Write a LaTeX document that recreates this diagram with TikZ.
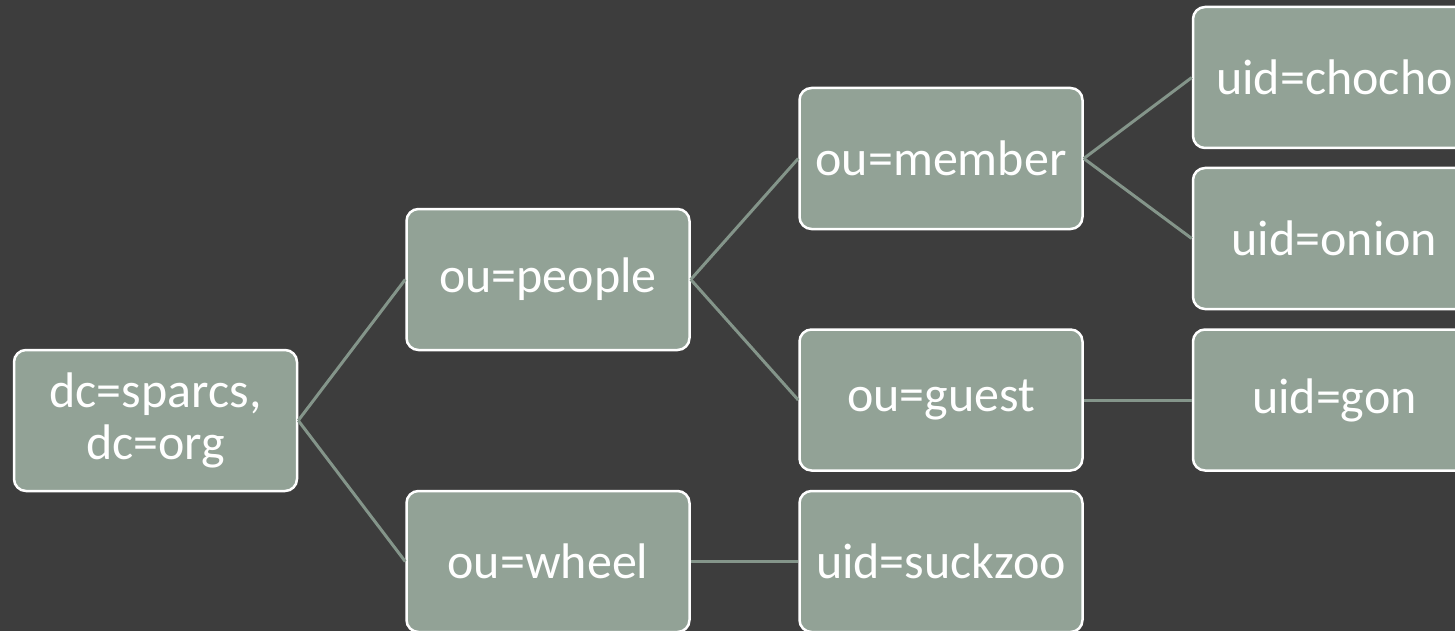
\documentclass[tikz,border=0pt]{standalone}
\usepackage{fontspec}
\setmainfont{Carlito}
\definecolor{bg}{HTML}{3D3D3D}
\definecolor{boxfill}{HTML}{92A296}
\definecolor{linkcol}{HTML}{84958A}
\begin{document}
\begin{tikzpicture}[x=1pt,y=-1pt,
  box/.style={draw=white,line width=2.5pt,fill=boxfill,rounded corners=12pt,
    minimum width=283pt,minimum height=141pt,inner sep=0pt,text=white,
    align=center,font=\fontsize{50}{46}\selectfont},
  link/.style={draw=linkcol,line width=3pt}]
\fill[bg] (0,0) rectangle (1455,631);
\useasboundingbox (0,0) rectangle (1455,631);
\node[box] (dc) at (155.5,420.5) {dc=sparcs,\\[6pt]dc=org};
\node[box] (people) at (548,279.5) {ou=people};
\node[box] (wheel) at (548,561.5) {ou=wheel};
\node[box] (member) at (941,158.5) {ou=member};
\node[box] (guest) at (941,400) {ou=guest};
\node[box] (suckzoo) at (941,561.5) {uid=suckzoo};
\node[box] (chocho) at (1334.5,77.5) {uid=chocho};
\node[box] (onion) at (1334.5,238.5) {uid=onion};
\node[box] (gon) at (1334.5,400) {uid=gon};
\draw[link] (dc.east) -- (people.west);
\draw[link] (dc.east) -- (wheel.west);
\draw[link] (people.east) -- (member.west);
\draw[link] (people.east) -- (guest.west);
\draw[link] (wheel.east) -- (suckzoo.west);
\draw[link] (member.east) -- (chocho.west);
\draw[link] (member.east) -- (onion.west);
\draw[link] (guest.east) -- (gon.west);
\end{tikzpicture}
\end{document}
